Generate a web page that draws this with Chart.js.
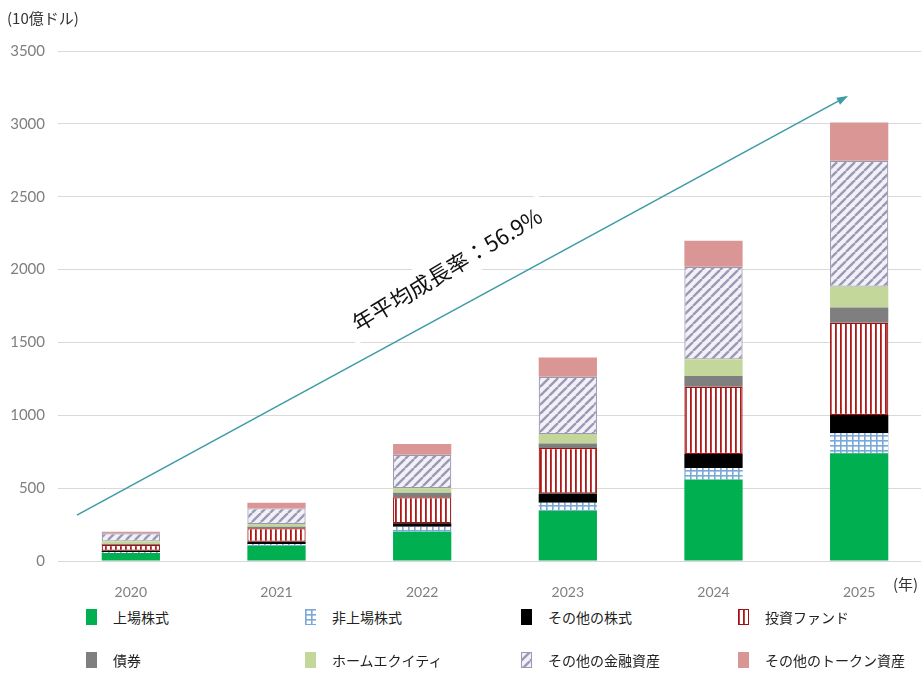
<!DOCTYPE html>
<html lang="ja">
<head>
<meta charset="utf-8">
<script src="https://cdn.jsdelivr.net/npm/chart.js@4.4.1/dist/chart.umd.min.js"></script>
<style>
  html, body { margin: 0; padding: 0; background: #fff; overflow: hidden; }
  #wrap { position: relative; width: 932px; height: 600px; }
  #legend {
    position: absolute; left: 86px; top: 603px;
    display: grid; grid-template-columns: 219px 216px 217px 180px;
    grid-auto-rows: 43px;
    font-family: "Noto Sans CJK JP", sans-serif; font-size: 14px; color: #222;
  }
  .item { display: flex; align-items: center; height: 28px; }
  .item canvas { width: 11px; height: 16px; margin-right: 16px; }
</style>
</head>
<body>
<div id="wrap"><canvas id="myChart" width="932" height="600"></canvas></div>
<div id="legend"></div>
<script>
'use strict';
// data (10億ドル)
const years = ['2020', '2021', '2022', '2023', '2024', '2025'];
const listedEq = [55, 105, 201, 345, 560, 739];
const privateEq = [6, 12, 34, 55, 78, 137];
const otherEq = [10, 15, 24, 64, 96, 126];
const funds = [38, 92, 178, 311, 462, 633];
const bonds = [8, 11, 32, 32, 73, 105];
const homeEq = [18, 19, 30, 64, 115, 142];
const otherFin = [55, 107, 230, 393, 635, 864];
const otherToken = [10, 39, 74, 133, 178, 264];
const yTicks = [0, 500, 1000, 1500, 2000, 2500, 3000, 3500];

// arrow + label in data units (category index, value)
const arrowFrom = [-0.37, 315];
const arrowTo = [4.91, 3185];
const cagrText = '年平均成長率：56.9%';
const cagrAt = [2.17, 2000];

//patterns
function makePattern(w, h, draw) {
    const c = document.createElement('canvas');
    c.width = w; c.height = h;
    draw(c.getContext('2d'), w, h);
    return c;
}
const gridTile = makePattern(6, 5, (g, w, h) => {
    g.fillStyle = '#fff'; g.fillRect(0, 0, w, h);
    g.fillStyle = '#7aa8d8';
    g.fillRect(0, 0, 1.6, h);
    g.fillRect(0, 0, w, 1.6);
});
const stripeTile = makePattern(5, 4, (g, w, h) => {
    g.fillStyle = '#fff'; g.fillRect(0, 0, w, h);
    g.fillStyle = '#b01818';
    g.fillRect(0, 0, 1.8, h);
});
const hatchTile = makePattern(9, 9, (g, w, h) => {
    g.fillStyle = '#f3f1f8'; g.fillRect(0, 0, w, h);
    g.strokeStyle = '#9c99b6'; g.lineWidth = 2.4;
    g.beginPath();
    for (let k = -1; k <= 1; k++) {
        g.moveTo(k * w, h); g.lineTo(k * w + w, 0);
    }
    g.stroke();
});
const ctx = document.getElementById('myChart').getContext('2d');
const pat = (t) => ctx.createPattern(t, 'repeat');

const series = [
    { label: '上場株式', data: listedEq, fill: '#00b050', tile: null },
    { label: '非上場株式', data: privateEq, fill: pat(gridTile), tile: gridTile },
    { label: 'その他の株式', data: otherEq, fill: '#000000', tile: null },
    { label: '投資ファンド', data: funds, fill: pat(stripeTile), tile: stripeTile, border: '#a01010' },
    { label: '債券', data: bonds, fill: '#7f7f7f', tile: null },
    { label: 'ホームエクイティ', data: homeEq, fill: '#c4d79b', tile: null },
    { label: 'その他の金融資産', data: otherFin, fill: pat(hatchTile), tile: hatchTile, border: '#9a98b0' },
    { label: 'その他のトークン資産', data: otherToken, fill: '#da9694', tile: null },
];

const FONT = "Lato, 'Noto Sans CJK JP', sans-serif";

const extras = {
    id: 'extras',
    afterDraw(chart) {
        const c = chart.ctx, x = chart.scales.x, y = chart.scales.y, a = chart.chartArea;
        c.save();
        // axis captions
        c.fillStyle = '#333';
        c.font = "15px 'Noto Sans CJK JP', sans-serif";
        c.textBaseline = 'middle';
        c.textAlign = 'left';
        c.fillText('(10億ドル)', 7, a.top - 33);
        c.fillText('(年)', 893, a.bottom + 23);

        // arrow
        const x0 = x.getPixelForValue(arrowFrom[0]), y0 = y.getPixelForValue(arrowFrom[1]);
        const x1 = x.getPixelForValue(arrowTo[0]), y1 = y.getPixelForValue(arrowTo[1]);
        const ang = Math.atan2(y1 - y0, x1 - x0);
        c.strokeStyle = '#3f9ba6';
        c.fillStyle = '#3f9ba6';
        c.lineWidth = 1.6;
        c.beginPath(); c.moveTo(x0, y0); c.lineTo(x1, y1); c.stroke();
        c.beginPath();
        c.moveTo(x1 + 2, y1 - 1);
        c.lineTo(x1 - 9 * Math.cos(ang) + 4 * Math.sin(ang), y1 - 9 * Math.sin(ang) - 4 * Math.cos(ang));
        c.lineTo(x1 - 9 * Math.cos(ang) - 4 * Math.sin(ang), y1 - 9 * Math.sin(ang) + 4 * Math.cos(ang));
        c.closePath(); c.fill();

        // rotated label with white box
        const tx = x.getPixelForValue(cagrAt[0]), ty = y.getPixelForValue(cagrAt[1]);
        c.translate(tx, ty);
        c.rotate(-31 * Math.PI / 180);
        c.font = "22px 'Noto Sans CJK JP', sans-serif";
        const tw = c.measureText(cagrText).width;
        c.fillStyle = '#fff';
        c.fillRect(-tw / 2 - 8, -18, tw + 16, 36);
        c.fillStyle = '#111';
        c.textAlign = 'center';
        c.fillText(cagrText, 0, 0);
        c.restore();
    }
};

const myChart = new Chart(ctx, {
    type: 'bar',
    data: {
        labels: years,
        datasets: series.map((s) => ({
            label: s.label,
            data: s.data,
            backgroundColor: s.fill,
            borderColor: s.border || 'transparent',
            borderWidth: s.border ? 1.2 : 0,
            borderSkipped: false,
            categoryPercentage: 1,
            barPercentage: 0.4,
        })),
    },
    options: {
        responsive: false,
        animation: false,
        layout: { padding: { top: 51, left: 0, right: 0, bottom: 0 } },
        plugins: {
            legend: { display: false },
            tooltip: { enabled: false },
        },
        scales: {
            x: {
                stacked: true,
                grid: { display: false },
                border: { display: false },
                ticks: { color: '#7f7f7f', font: { family: FONT, size: 14 }, padding: 15 },
                afterFit: (s) => { s.height = 39; },
            },
            y: {
                stacked: true,
                min: 0,
                max: yTicks[yTicks.length - 1],
                afterBuildTicks: (s) => { s.ticks = yTicks.map((v) => ({ value: v })); },
                grid: { color: '#d9d9d9', lineWidth: 1, drawTicks: false },
                border: { display: false },
                ticks: {
                    color: '#7f7f7f',
                    font: { family: FONT, size: 15 },
                    padding: 13,
                    callback: (v) => String(v),
                },
                afterFit: (s) => { s.width = 58; },
            },
        },
    },
    plugins: [extras],
});

// legend
const legend = document.getElementById('legend');
series.forEach((s) => {
    const item = document.createElement('div');
    item.className = 'item';
    const sw = document.createElement('canvas');
    sw.width = 11; sw.height = 16;
    const g = sw.getContext('2d');
    g.fillStyle = s.tile ? g.createPattern(s.tile, 'repeat') : s.fill;
    g.fillRect(0, 0, 11, 16);
    if (s.border) { g.strokeStyle = s.border; g.lineWidth = 1; g.strokeRect(0.5, 0.5, 10, 15); }
    item.appendChild(sw);
    const t = document.createElement('span');
    t.textContent = s.label;
    item.appendChild(t);
    legend.appendChild(item);
});
</script>
</body>
</html>
